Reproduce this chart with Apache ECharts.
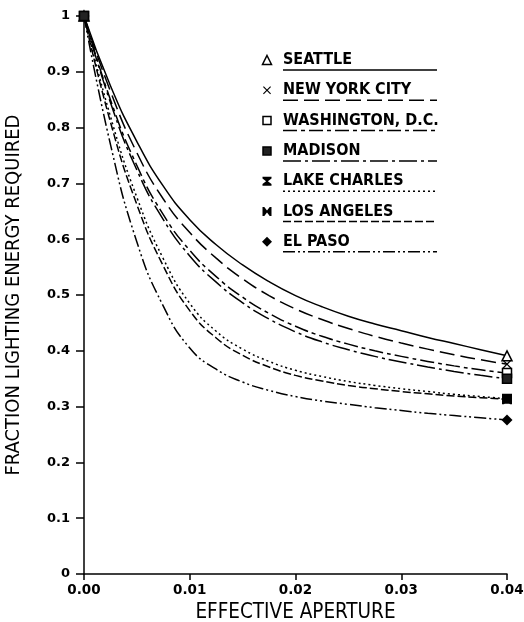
<!DOCTYPE html>
<html>
<head>
<meta charset="utf-8">
<script src="https://cdn.jsdelivr.net/npm/echarts@6/dist/echarts.min.js"></script>
<style>html,body{margin:0;padding:0;background:#fff;}#c{width:524px;height:622px;}</style>
</head>
<body>
<div id="c"></div>
<script>
// ---- data ----
var apertures   = [0, 0.0025, 0.005, 0.0075, 0.01, 0.0125, 0.015, 0.0175, 0.02, 0.0225, 0.025, 0.0275, 0.03, 0.0325, 0.035, 0.0375, 0.04];
var seattle     = [1, 0.875, 0.775, 0.695, 0.635, 0.59, 0.554, 0.524, 0.499, 0.479, 0.462, 0.448, 0.436, 0.424, 0.413, 0.402, 0.391];
var newYork     = [1, 0.865, 0.755, 0.672, 0.612, 0.566, 0.529, 0.499, 0.475, 0.456, 0.44, 0.426, 0.414, 0.403, 0.393, 0.384, 0.376];
var washington  = [1, 0.85, 0.732, 0.644, 0.58, 0.533, 0.496, 0.467, 0.444, 0.426, 0.412, 0.4, 0.39, 0.381, 0.373, 0.366, 0.36];
var madison     = [1, 0.845, 0.724, 0.635, 0.57, 0.523, 0.486, 0.457, 0.434, 0.416, 0.402, 0.39, 0.38, 0.371, 0.363, 0.356, 0.35];
var lakeCharles = [1, 0.82, 0.675, 0.565, 0.485, 0.435, 0.403, 0.381, 0.365, 0.354, 0.345, 0.338, 0.332, 0.327, 0.322, 0.318, 0.314];
var losAngeles  = [1, 0.81, 0.662, 0.552, 0.472, 0.423, 0.392, 0.371, 0.356, 0.346, 0.338, 0.332, 0.327, 0.323, 0.319, 0.316, 0.313];
var elPaso      = [1, 0.77, 0.595, 0.48, 0.405, 0.367, 0.344, 0.329, 0.318, 0.31, 0.304, 0.298, 0.293, 0.288, 0.284, 0.28, 0.276];
var cityNames = ['SEATTLE', 'NEW YORK CITY', 'WASHINGTON, D.C.', 'MADISON', 'LAKE CHARLES', 'LOS ANGELES', 'EL PASO'];
var xTickLabels = ['0.00', '0.01', '0.02', '0.03', '0.04'];
var yTickLabels = ['0', '0.1', '0.2', '0.3', '0.4', '0.5', '0.6', '0.7', '0.8', '0.9', '1'];

// ---- styles ----
var values = [seattle, newYork, washington, madison, lakeCharles, losAngeles, elPaso];
var dashes = ['solid', [15, 6], [14, 4, 4, 4], [18, 4, 3, 4], [2, 3], [8, 3], [12, 3, 2, 3, 2, 3]];
var zOrder = [8, 7, 6, 12, 11, 5, 4];
var PTS_X = [[0,1],[1,0],[5,4],[9,0],[10,1],[6,5],[10,9],[9,10],[5,6],[1,10],[0,9],[4,5]];
var PTS_HG = [[0,0],[10,0],[10,2],[6,5],[10,8],[10,10],[0,10],[0,8],[4,5],[0,2]];
var PTS_BT = [[0,0],[2,0],[5,4],[8,0],[10,0],[10,10],[8,10],[5,6],[2,10],[0,10]];
function toPath(pts) {
  return 'path://' + pts.map(function (p, k) { return (k ? 'L' : 'M') + p[0] + ',' + p[1]; }).join(' ') + ' Z';
}
var symbols = [
  {s: 'triangle', size: 10, fill: '#fff', bw: 1.5},
  {s: toPath(PTS_X), pts: PTS_X, size: 9, fill: '#000', bw: 0},
  {s: 'rect', size: 9, fill: '#fff', bw: 1.5},
  {s: 'rect', size: 9, fill: '#222', bw: 1.5},
  {s: toPath(PTS_HG), pts: PTS_HG, size: 10, fill: '#000', bw: 0},
  {s: toPath(PTS_BT), pts: PTS_BT, size: 10, fill: '#000', bw: 0},
  {s: 'diamond', size: 11, fill: '#000', bw: 0}
];
var FONT = '"DejaVu Sans Condensed", "DejaVu Sans", sans-serif';
var TICKFONT = '"DejaVu Sans", sans-serif';

var series = values.map(function (vals, i) {
  var sym = symbols[i];
  return {
    type: 'line',
    name: cityNames[i],
    smooth: 0.5,
    symbol: sym.s,
    symbolSize: sym.size,
    itemStyle: {color: sym.fill, borderColor: '#000', borderWidth: sym.bw},
    lineStyle: {color: '#000', width: 1.5, type: dashes[i]},
    data: apertures.map(function (x, j) {
      var item = {value: [x, vals[j]]};
      if (j !== 0 && j !== apertures.length - 1) item.symbol = 'none';
      return item;
    }),
    z: zOrder[i]
  };
});

// ---- legend drawn as graphic ----
var graphics = [];
var legTop = 60, legGap = 30.3, symX = 267, textX = 283, lineEnd = 437;
cityNames.forEach(function (name, i) {
  var cy = legTop + i * legGap;
  var sym = symbols[i];
  var sz = sym.size - 1;
  var el;
  if (sym.s === 'triangle') {
    el = {type: 'polygon', shape: {points: [[symX, cy - sz / 2], [symX + sz / 2, cy + sz / 2], [symX - sz / 2, cy + sz / 2]]},
      style: {fill: '#fff', stroke: '#000', lineWidth: 1.5}};
  } else if (sym.s === 'rect') {
    el = {type: 'rect', shape: {x: symX - sz / 2, y: cy - sz / 2, width: sz, height: sz},
      style: {fill: sym.fill, stroke: '#000', lineWidth: 1.5}};
  } else if (sym.s === 'diamond') {
    el = {type: 'polygon', shape: {points: [[symX, cy - sz / 2], [symX + sz / 2, cy], [symX, cy + sz / 2], [symX - sz / 2, cy]]},
      style: {fill: '#000'}};
  } else {
    el = {type: 'polygon', shape: {points: sym.pts.map(function (p) { return [symX - sz / 2 + p[0] * sz / 10, cy - sz / 2 + p[1] * sz / 10]; })},
      style: {fill: '#000'}};
  }
  graphics.push(el);
  graphics.push({type: 'text', x: textX, y: cy, style: {text: name, fill: '#000', font: 'bold 16px ' + FONT, verticalAlign: 'middle', align: 'left'}});
  var ls = {stroke: '#000', lineWidth: 1.5};
  if (dashes[i] !== 'solid') ls.lineDash = dashes[i];
  graphics.push({type: 'line', shape: {x1: textX, y1: cy + 10, x2: lineEnd, y2: cy + 10}, style: ls});
});

var chart = echarts.init(document.getElementById('c'), null, {renderer: 'canvas'});
chart.setOption({
  backgroundColor: '#fff',
  animation: false,
  grid: {left: 84, right: 17, top: 16, bottom: 48, containLabel: false, outerBoundsMode: 'none'},
  xAxis: {
    type: 'value', min: 0, max: 0.04, interval: 0.01,
    name: 'EFFECTIVE APERTURE', nameLocation: 'middle', nameGap: 24,
    nameTextStyle: {color: '#000', fontSize: 20.5, fontFamily: FONT},
    axisLine: {show: true, lineStyle: {color: '#000', width: 1.5}},
    axisTick: {show: true, length: 6, lineStyle: {color: '#000', width: 1.5}},
    axisLabel: {color: '#000', fontSize: 13.5, fontWeight: 'bold', fontFamily: TICKFONT, margin: 9,
      formatter: function (v) { return xTickLabels[Math.round(v / 0.01)]; }},
    splitLine: {show: false}
  },
  yAxis: {
    type: 'value', min: 0, max: 1, interval: 0.1,
    name: 'FRACTION LIGHTING ENERGY REQUIRED', nameLocation: 'middle', nameGap: 60, nameRotate: 90,
    nameTextStyle: {color: '#000', fontSize: 20, fontFamily: FONT},
    axisLine: {show: true, lineStyle: {color: '#000', width: 1.5}},
    axisTick: {show: true, length: 8, lineStyle: {color: '#000', width: 1.5}},
    axisLabel: {color: '#000', fontSize: 13, fontWeight: 'bold', fontFamily: TICKFONT, margin: 14,
      formatter: function (v) { return yTickLabels[Math.round(v / 0.1)]; }},
    splitLine: {show: false}
  },
  series: series,
  graphic: {elements: graphics}
});
</script>
</body>
</html>
